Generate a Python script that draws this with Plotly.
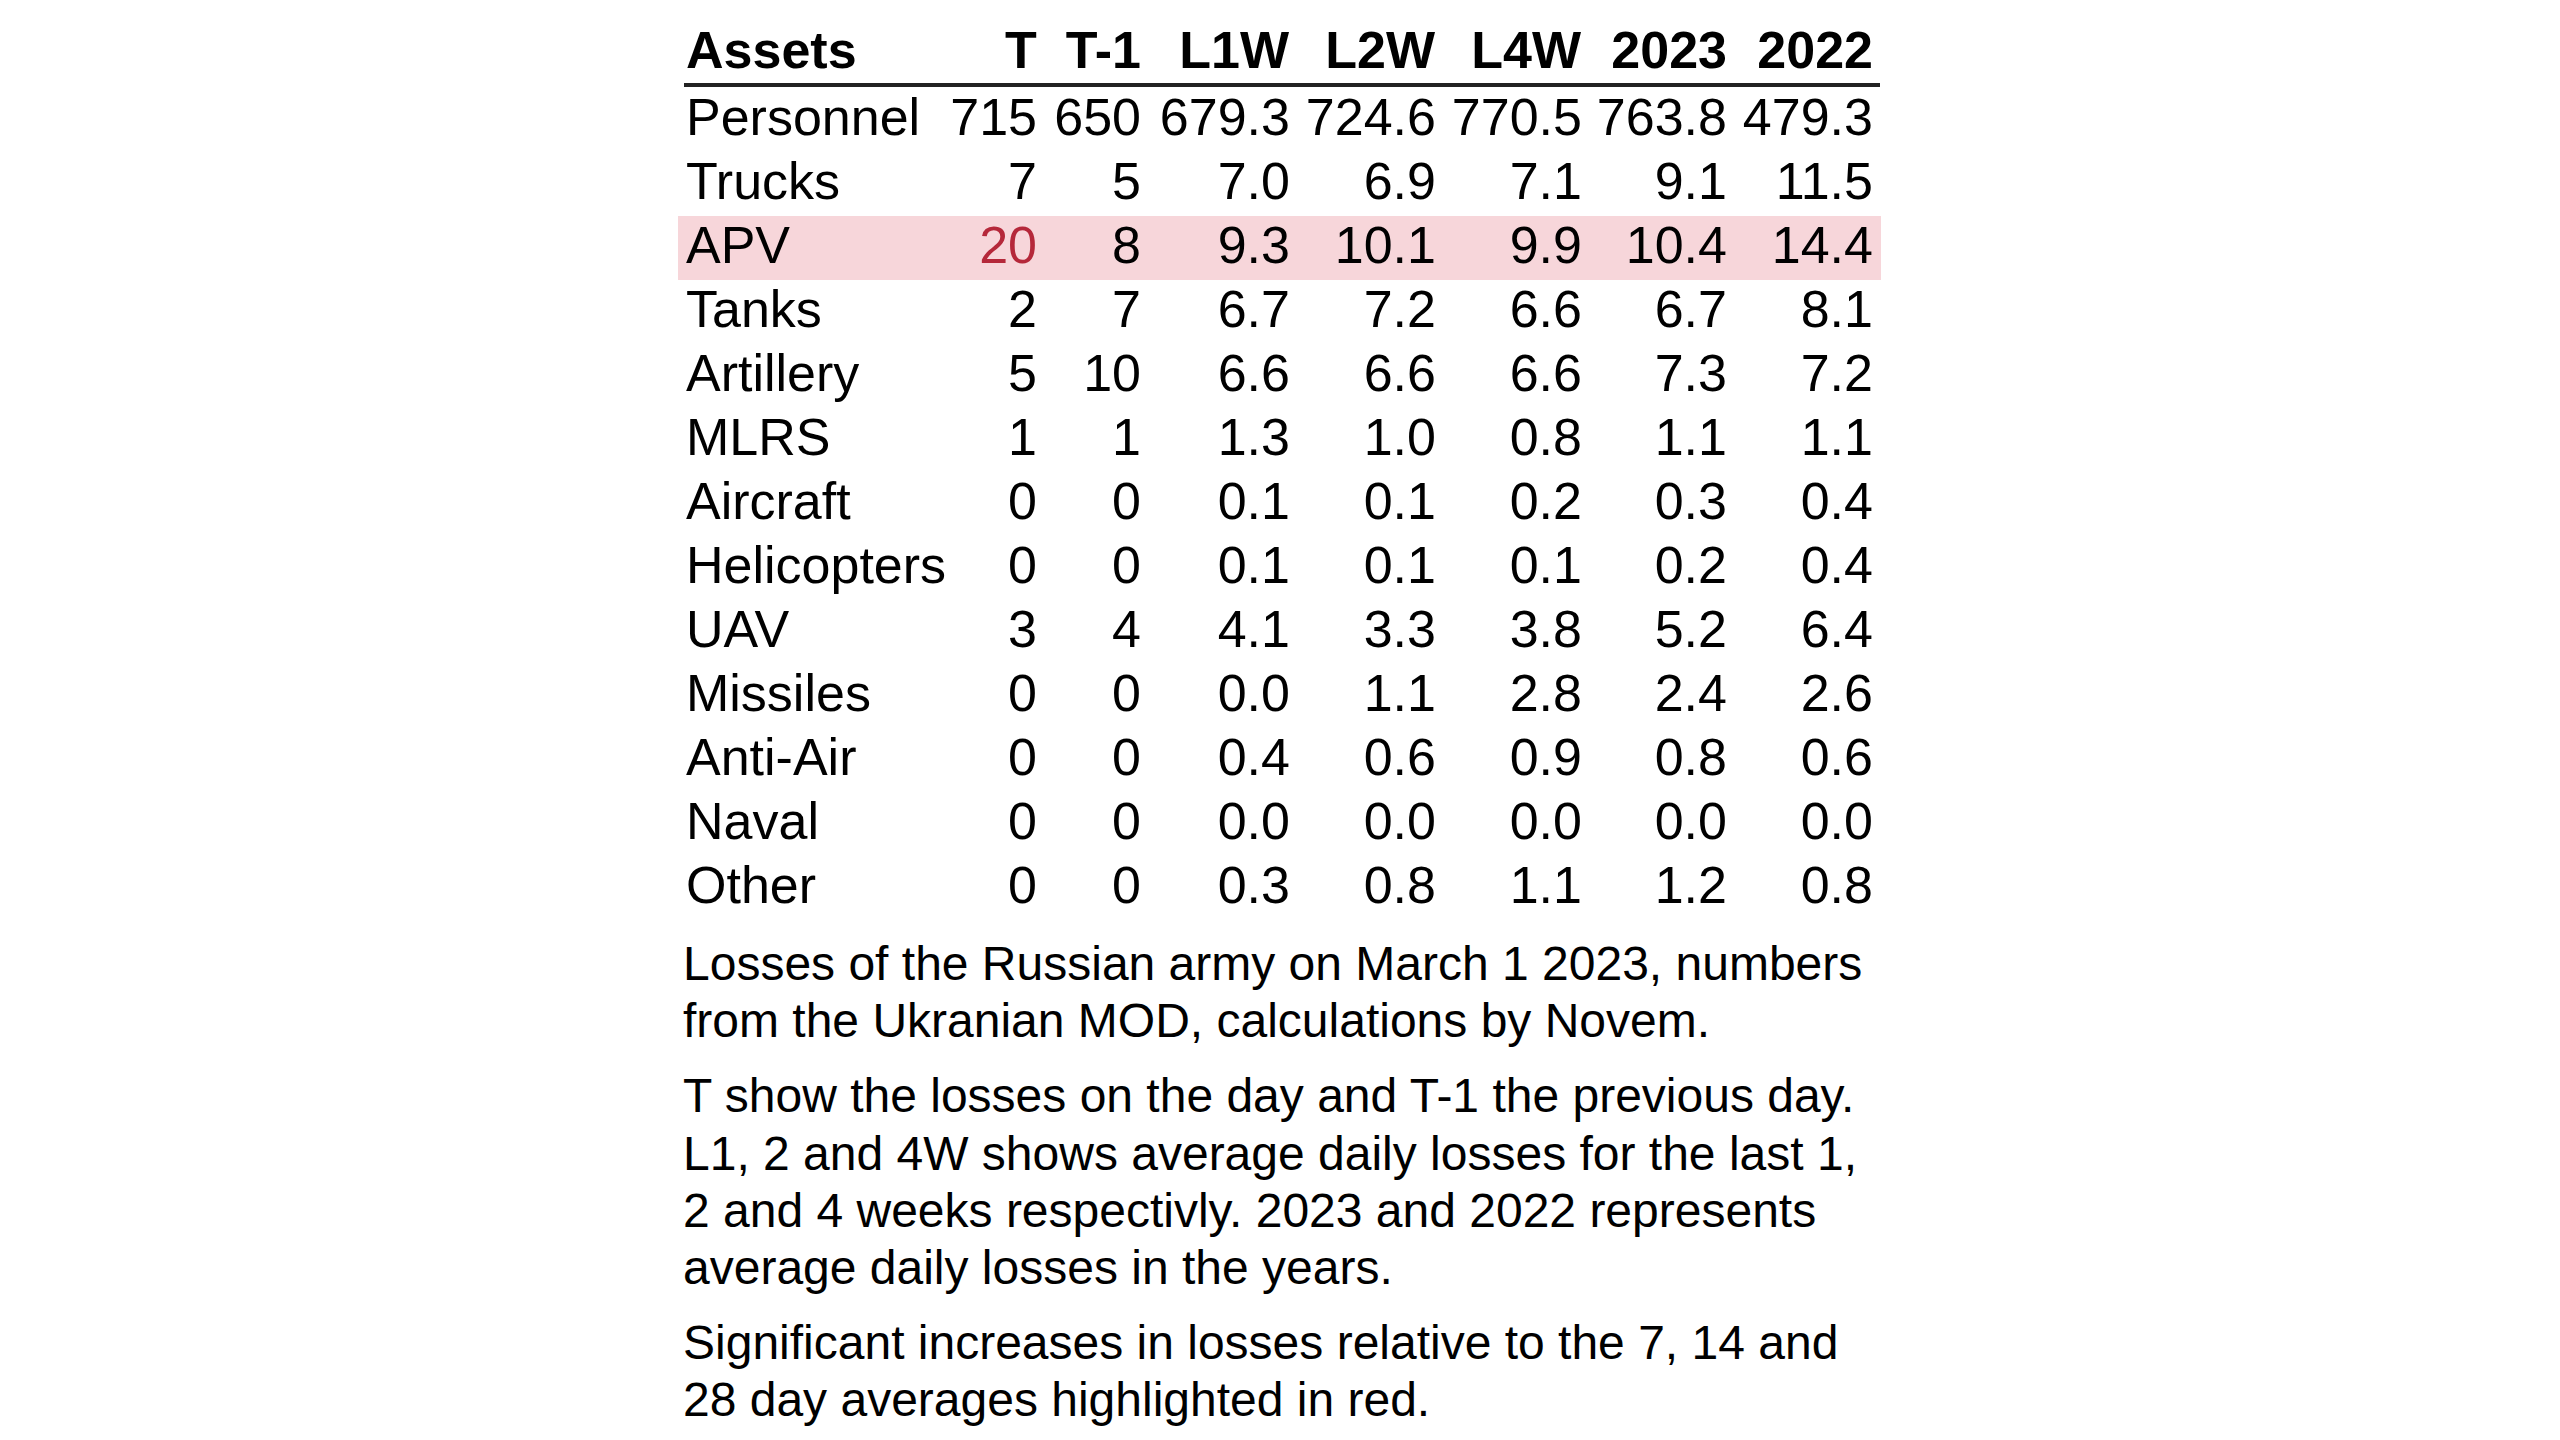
import plotly.graph_objects as go

# table data
columns = ["Assets", "T", "T-1", "L1W", "L2W", "L4W", "2023", "2022"]
assets = ["Personnel", "Trucks", "APV", "Tanks", "Artillery", "MLRS", "Aircraft",
          "Helicopters", "UAV", "Missiles", "Anti-Air", "Naval", "Other"]
t_day = [715, 7, 20, 2, 5, 1, 0, 0, 3, 0, 0, 0, 0]
t_prev = [650, 5, 8, 7, 10, 1, 0, 0, 4, 0, 0, 0, 0]
l1w = [679.3, 7.0, 9.3, 6.7, 6.6, 1.3, 0.1, 0.1, 4.1, 0.0, 0.4, 0.0, 0.3]
l2w = [724.6, 6.9, 10.1, 7.2, 6.6, 1.0, 0.1, 0.1, 3.3, 1.1, 0.6, 0.0, 0.8]
l4w = [770.5, 7.1, 9.9, 6.6, 6.6, 0.8, 0.2, 0.1, 3.8, 2.8, 0.9, 0.0, 1.1]
y2023 = [763.8, 9.1, 10.4, 6.7, 7.3, 1.1, 0.3, 0.2, 5.2, 2.4, 0.8, 0.0, 1.2]
y2022 = [479.3, 11.5, 14.4, 8.1, 7.2, 1.1, 0.4, 0.4, 6.4, 2.6, 0.6, 0.0, 0.8]

# significant increases get a red cell, the row gets a pink background
highlight_rows = ["APV"]
highlight_cells = [("APV", "T")]

caption_paragraphs = [
    ["Losses of the Russian army on March 1 2023, numbers",
     "from the Ukranian MOD, calculations by Novem."],
    ["T show the losses on the day and T-1 the previous day.",
     "L1, 2 and 4W shows average daily losses for the last 1,",
     "2 and 4 weeks respectivly. 2023 and 2022 represents",
     "average daily losses in the years."],
    ["Significant increases in losses relative to the 7, 14 and",
     "28 day averages highlighted in red."],
]

W, H = 2560, 1440
FONT = "Liberation Sans, Arial, sans-serif"
PINK = "#f7d6da"
RED = "#b5283a"

value_cols = [t_day, t_prev, l1w, l2w, l4w, y2023, y2022]
cell_values = [assets, [str(v) for v in t_day], [str(v) for v in t_prev]]
cell_values += [[f"{v:.1f}" for v in col] for col in value_cols[2:]]

fills = []
fonts = []
for c in columns:
    fills.append([PINK if a in highlight_rows else "white" for a in assets])
    fonts.append([RED if (a, c) in highlight_cells else "black" for a in assets])

# pixel layout (from top-left of the figure)
left, right = 670, 1873
top = 5
header_h = 75
row_h = 64

table = go.Table(
    domain=dict(x=[left / W, right / W], y=[0, 1 - top / H]),
    columnwidth=[270, 97, 104, 149, 146, 146, 145, 146],
    header=dict(
        values=[f"<b>{c}</b>" for c in columns],
        align=["left"] + ["right"] * 7,
        font=dict(family=FONT, size=52, color="black"),
        fill_color="rgba(0,0,0,0)",
        line=dict(color="rgba(0,0,0,0)", width=0),
        height=header_h,
    ),
    cells=dict(
        values=cell_values,
        align=["left"] + ["right"] * 7,
        font=dict(family=FONT, size=52, color=fonts),
        fill_color=fills,
        line=dict(color="rgba(0,0,0,0)", width=0),
        height=row_h,
    ),
)

fig = go.Figure(table)

# rule under the header
rule_y = 1 - 77 / H
fig.add_shape(type="line", xref="paper", yref="paper",
              x0=676 / W, x1=1872 / W, y0=rule_y, y1=rule_y,
              line=dict(color="#222222", width=4))

# caption lines, positioned by baseline
baseline = 972
for para in caption_paragraphs:
    for line in para:
        fig.add_annotation(text=line, x=673 / W, y=1 - (baseline - 16.6) / H,
                           xref="paper", yref="paper", xanchor="left", yanchor="middle",
                           showarrow=False, font=dict(family=FONT, size=48, color="black"))
        baseline += 57.2
    baseline += 18

fig.update_layout(width=W, height=H, margin=dict(l=0, r=0, t=0, b=0),
                  paper_bgcolor="white", plot_bgcolor="white")

fig.write_html("out.html")
